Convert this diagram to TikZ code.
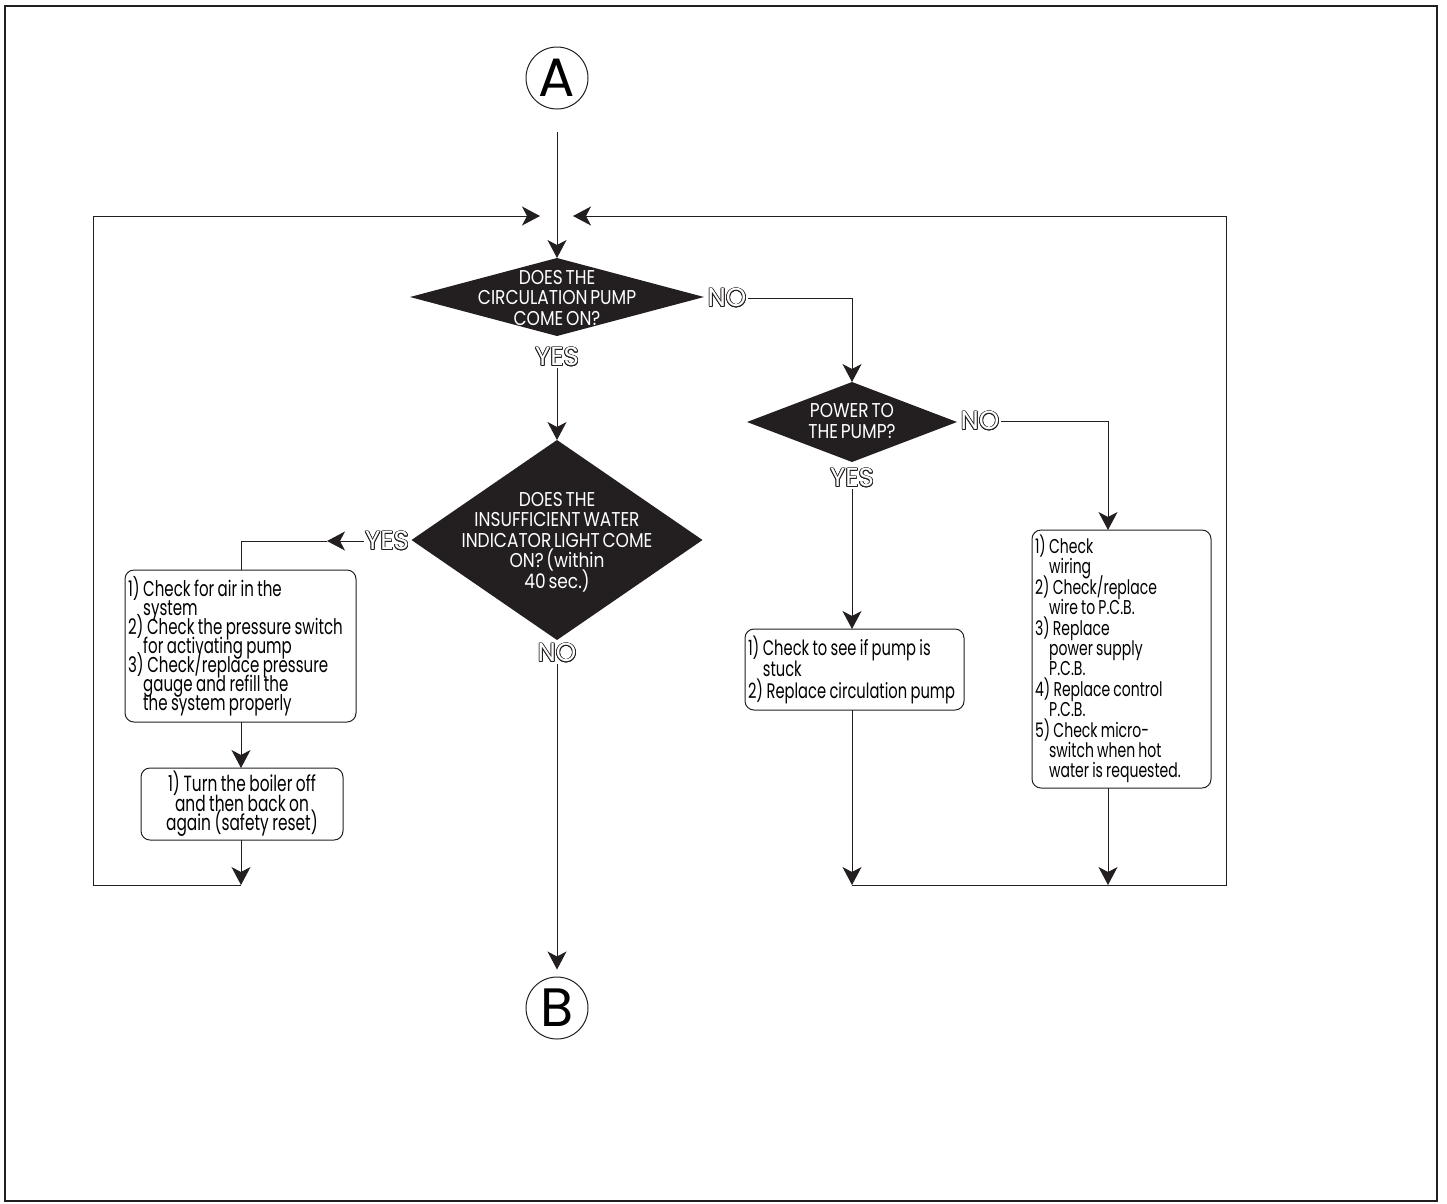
\documentclass[tikz,border=0pt]{standalone}
\usepackage{fontspec}
\setmainfont{Poppins}[FakeStretch=0.7,WordSpace=0.85]
\newfontfamily\labfont{Poppins}
\newfontfamily\capfont{Poppins}[FakeStretch=0.85,WordSpace=0.6]
\usepackage{contour}
\contourlength{0.7pt}
\usetikzlibrary{shapes.geometric,arrows.meta}
\definecolor{ink}{HTML}{231F20}
\newcommand\ind{\phantom{1)\,}}
\newcommand\tightlines[2]{\fontsize{#1}{#2}\selectfont\lineskiplimit=-50pt\lineskip=0pt}
\begin{document}
\begin{tikzpicture}[x=1pt,y=-1pt,line width=1pt,draw=ink,
  arr/.style={-{Stealth[length=18pt,width=19pt,inset=5pt]}},
  conn/.style={circle,draw,minimum size=62pt,inner sep=0pt,font=\labfont\fontsize{54}{54}\selectfont},
  dia/.style={diamond,fill=ink,inner sep=0pt,outer sep=0pt},
  dtext/.style={text=white,align=center,inner sep=0pt,font=\capfont\tightlines{20}{20.5}},
  yn/.style={inner sep=1pt,text=white,font=\labfont\fontsize{26}{26}\selectfont},
  stepbox/.style={draw,rounded corners=9pt,inner xsep=3pt,inner ysep=1pt,outer sep=0pt,align=flush left},
]
\useasboundingbox (0,0) rectangle (1447,1203);
\draw[line width=1.6pt] (5,6) rectangle (1437,1201);

% connectors A and B
\node[conn] (A) at (557,78) {A};
\node[conn] (B) at (557,1008) {B};

% decisions
\node[dia,minimum width=294pt,minimum height=78pt] (d1) at (557,297) {};
\node[dtext] (d1t) at (557,298) {DOES THE\\CIRCULATION PUMP\\COME ON?};
\node[dia,minimum width=291pt,minimum height=200pt] (d2) at (557,540) {};
\node[dtext] (d2t) at (557,542) {DOES THE\\INSUFFICIENT WATER\\INDICATOR LIGHT COME\\ON? (within\\40 sec.)};
\node[dia,minimum width=210pt,minimum height=80pt] (d3) at (852,422) {};
\node[dtext] (d3t) at (852,421) {POWER TO\\THE PUMP?};

% yes/no labels
\node[yn] (d1no) at (727,298) {\contour{ink}{NO}};
\node[yn] (d1yes) at (557,357) {\contour{ink}{YES}};
\node[yn] (d2yes) at (387,541) {\contour{ink}{YES}};
\node[yn] (d2no) at (557,653) {\contour{ink}{NO}};
\node[yn] (d3no) at (980,421) {\contour{ink}{NO}};
\node[yn] (d3yes) at (852,478) {\contour{ink}{YES}};

% action boxes
\node[stepbox,minimum width=231pt,minimum height=152pt,text width=225pt,font=\tightlines{21.5}{19}] (b1) at (240.5,646)
{1)\,Check for air in the\\
\ind system\\
2)\,Check the pressure switch\\
\ind for activating pump\\
3)\,Check/replace pressure\\
\ind gauge and refill the\\
\ind the system properly};
\node[stepbox,align=flush center,minimum width=202pt,minimum height=72pt,text width=196pt,font=\tightlines{22}{19.5}] (b2) at (242,804)
{1)\,Turn the boiler off\\and then back on\\again (safety reset)};
\node[stepbox,minimum width=219pt,minimum height=81pt,text width=213pt,font=\tightlines{21}{21.5}] (b3) at (854.5,669.5)
{1)\,Check to see if pump is\\
\ind stuck\\
2)\,Replace circulation pump};
\node[stepbox,minimum width=179pt,minimum height=258pt,text width=173pt,font=\tightlines{20}{20.4}] (b4) at (1121.5,659)
{1)\,Check\\
\ind wiring\\
2)\,Check/replace\\
\ind wire to P.C.B.\\
3)\,Replace\\
\ind power supply\\
\ind P.C.B.\\
4)\,Replace control\\
\ind P.C.B.\\
5)\,Check micro-\\
\ind switch when hot\\
\ind water is requested.};

% coordinates for loop lines
\coordinate (tl) at (93,216);
\coordinate (bl) at (93,885);
\coordinate (ml) at (540,216);
\coordinate (tr) at (1226,216);
\coordinate (br) at (1226,885);
\coordinate (mr) at (573,216);
\coordinate (b1top) at (241,570);
\coordinate (b1bot) at (241,722);
\coordinate (b2end) at (241,885);
\coordinate (b3top) at (852,629);
\coordinate (b3bot) at (852,710);
\coordinate (b3end) at (852,885);
\coordinate (b4in) at (1108,530);
\coordinate (b4out) at (1108,788);
\coordinate (b4end) at (1108,885);
\coordinate (ya) at (327,541);

% main flow
\draw[arr,shorten <=22pt] (A) -- (d1.north);
\draw[arr] (d1yes.south) -- (d2.north);
\draw[arr,shorten >=7pt] (d2no.south) -- (B.north);
\draw[arr] (d1no.east) -| (d3.north);
\draw[arr] (d3yes.south) -- (b3top);
\draw[arr] (d3no.east) -| (b4in);
\draw[arr] (d2yes.west) -- (ya);
\draw (ya) -| (b1top);
\draw[arr] (b1bot) -- (b1bot |- b2.north);
\draw[arr] (b1bot |- b2.south) -- (b2end);
\draw[arr] (b3bot) -- (b3end);
\draw[arr] (b4out) -- (b4end);

% loops back
\draw (b2end) -- (bl) -- (tl);
\draw[arr] (tl) -- (ml);
\draw (b3end) -- (br) -- (tr);
\draw[arr] (tr) -- (mr);
\end{tikzpicture}
\end{document}
